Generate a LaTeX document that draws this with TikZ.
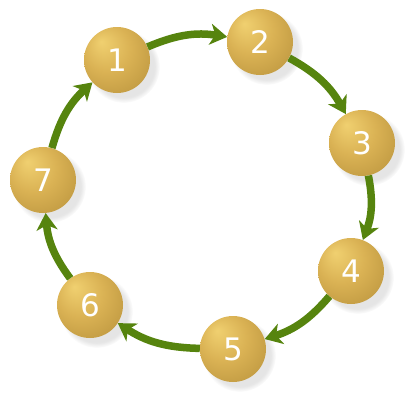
\documentclass[tikz,border=0pt]{standalone}
\usepackage{fontspec}
\setsansfont{DejaVu Sans}
\usetikzlibrary{arrows.meta,shadows}
\definecolor{leafgreen}{RGB}{86,132,14}
\definecolor{goldlight}{RGB}{240,208,112}
\definecolor{goldmid}{RGB}{218,178,84}
\definecolor{golddark}{RGB}{184,146,60}
\pgfdeclareradialshading{goldball}{\pgfpoint{-12bp}{14bp}}{color(0bp)=(goldlight); color(18bp)=(goldmid); color(40bp)=(golddark); color(50bp)=(golddark)}
\tikzset{
  ball/.style={circle,minimum size=66pt,inner sep=0pt,shading=goldball,
    circular drop shadow={shadow xshift=6pt,shadow yshift=-6pt,fill=black!20,opacity=0.5},
    text=white,font=\sffamily\fontsize{31}{31}\selectfont},
  flow/.style={draw=leafgreen,line width=7.5pt,-{Stealth[length=17pt,width=21pt,inset=5pt]}}
}
\begin{document}
\begin{tikzpicture}[x=1pt,y=-1pt]
  \useasboundingbox (0,0) rectangle (410,400);
  % balls
  \node[ball] (n1) at (117,60) {1};
  \node[ball] (n2) at (260,42) {2};
  \node[ball] (n3) at (362,143) {3};
  \node[ball] (n4) at (351,271) {4};
  \node[ball] (n5) at (233,349) {5};
  \node[ball] (n6) at (90,305) {6};
  \node[ball] (n7) at (43,180) {7};
  % arrows
  \foreach \a/\b in {1/2,2/3,3/4,4/5,5/6,6/7,7/1}
    \draw[flow] (n\a) to[bend left=16] (n\b);
\end{tikzpicture}
\end{document}
